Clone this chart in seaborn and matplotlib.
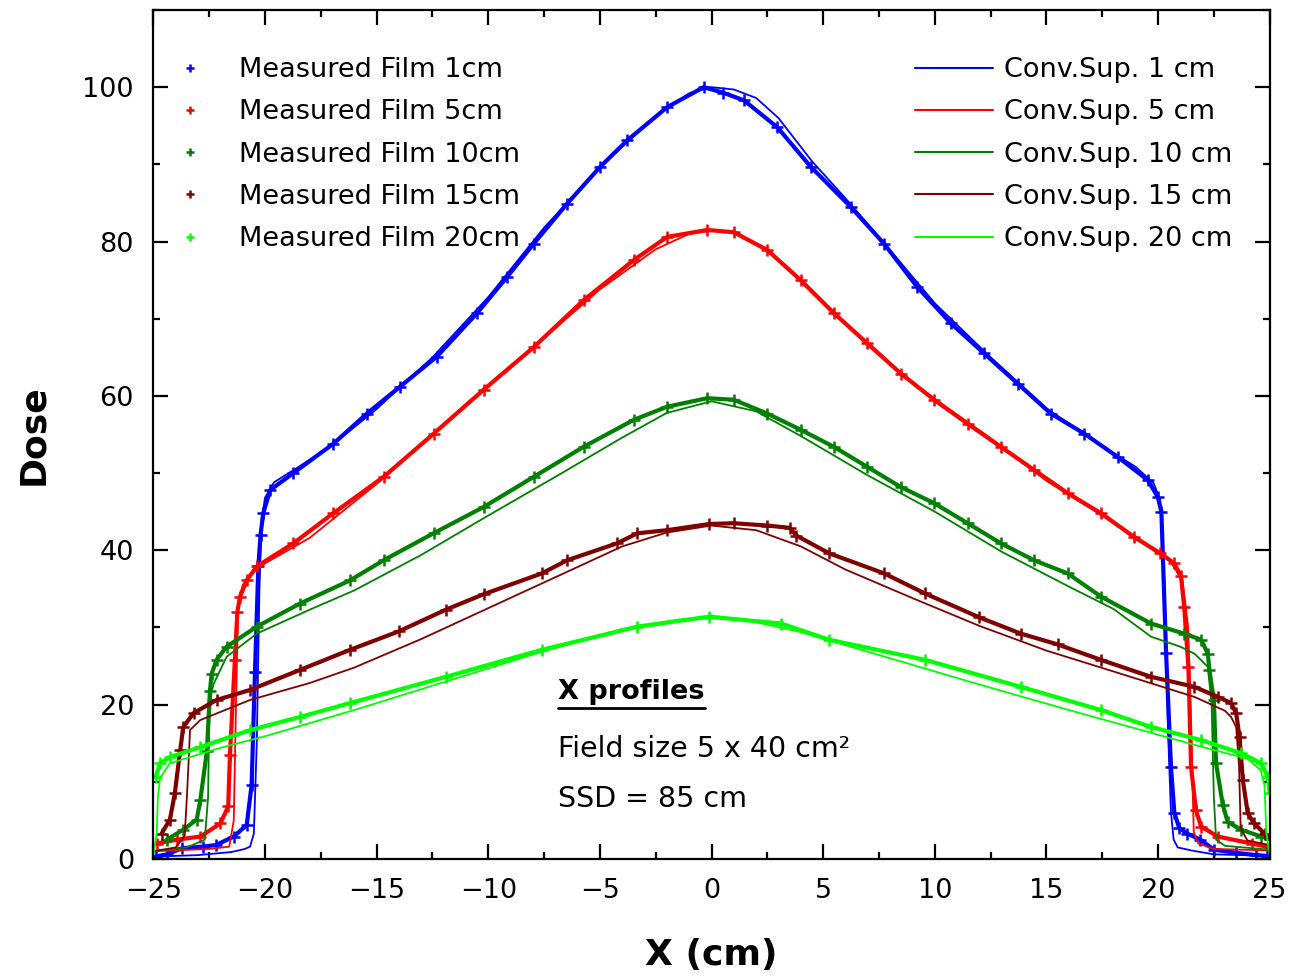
import matplotlib
matplotlib.use("Agg")
import matplotlib.pyplot as plt
from matplotlib.lines import Line2D
from matplotlib.ticker import MultipleLocator
import pandas as pd
import seaborn as sns

# Depths / labels / colours
depths = ["1", "5", "10", "15", "20"]
colors = ["#0000ff", "#ff0000", "#008000", "#800000", "#00ff00"]
meas_labels = ["Measured Film 1cm", "Measured Film 5cm", "Measured Film 10cm",
               "Measured Film 15cm", "Measured Film 20cm"]
calc_labels = ["Conv.Sup. 1 cm", "Conv.Sup. 5 cm", "Conv.Sup. 10 cm",
               "Conv.Sup. 15 cm", "Conv.Sup. 20 cm"]

# ---- measured film profiles ----
x_meas_1 = [-24.9, -24.4, -23.7, -22.8, -22.2, -21.4, -20.82, -20.6, -20.45, -20.3, -20.2,
            -20.08, -19.77, -18.73, -16.94, -15.44, -13.95, -12.30, -10.51, -9.16, -7.97,
            -6.47, -4.98, -3.78, -1.99, -0.35, 0.5, 1.45, 2.95, 4.44, 6.23, 7.73, 9.22,
            10.72, 12.21, 13.71, 15.20, 16.70, 18.19, 19.54, 19.99, 20.15, 20.36, 20.58,
            20.73, 20.95, 21.3, 21.9, 22.5, 23.5, 24.4, 24.9]
d_meas_1 = [0.3, 0.6, 1.4, 1.6, 1.8, 2.9, 4.4, 9.6, 24.2, 37.9, 42.0, 44.8, 47.8, 50.0,
            53.8, 57.7, 61.2, 65.1, 70.7, 75.4, 79.7, 84.9, 89.7, 93.1, 97.4, 100.0, 99.3,
            98.3, 94.8, 89.7, 84.5, 79.7, 74.1, 69.4, 65.5, 61.6, 57.7, 55.1, 52.1, 49.1,
            46.9, 45.0, 26.7, 11.9, 6.0, 4.0, 3.3, 2.5, 1.2, 0.8, 0.5, 0.4]

x_meas_5 = [-24.86, -23.96, -22.9, -22.0, -21.65, -21.57, -21.35, -21.24, -21.12, -20.82,
            -20.37, -18.73, -16.94, -14.69, -12.45, -10.21, -7.97, -5.73, -3.48, -1.99,
            -0.19, 1.0, 2.5, 3.99, 5.49, 6.98, 8.48, 9.97, 11.47, 12.96, 14.45, 15.95,
            17.44, 18.94, 20.1, 20.73, 21.03, 21.17, 21.36, 21.48, 21.7, 21.93, 22.68,
            24.2, 25.0]
d_meas_5 = [2.0, 2.5, 2.9, 4.6, 6.8, 13.5, 25.8, 32.0, 34.0, 36.1, 37.9, 40.9, 44.8, 49.5,
            55.1, 60.8, 66.3, 72.4, 77.6, 80.6, 81.5, 81.2, 78.9, 75.0, 70.7, 66.8, 62.9,
            59.5, 56.4, 53.4, 50.4, 47.4, 44.8, 41.7, 39.6, 38.3, 36.6, 32.7, 24.9, 11.9,
            6.3, 4.2, 2.9, 2.0, 1.5]

x_meas_10 = [-24.4, -23.66, -23.06, -22.9, -22.6, -22.47, -22.39, -22.17, -21.72, -20.37,
             -18.43, -16.19, -14.69, -12.45, -10.21, -7.97, -5.73, -3.48, -1.99, -0.19,
             1.0, 2.5, 4.0, 5.48, 6.98, 8.47, 9.97, 11.47, 12.96, 14.45, 15.95, 17.44,
             19.69, 21.17, 21.93, 22.23, 22.3, 22.5, 22.6, 22.9, 23.12, 23.72, 24.62, 25.0]
d_meas_10 = [2.5, 3.8, 5.1, 7.6, 14.0, 21.7, 24.0, 25.8, 27.5, 30.1, 33.1, 36.1, 38.7,
             42.2, 45.6, 49.5, 53.4, 56.9, 58.6, 59.7, 59.5, 57.7, 55.6, 53.4, 50.8, 48.2,
             46.1, 43.5, 40.9, 38.7, 37.0, 34.0, 30.5, 29.2, 28.4, 26.6, 24.5, 20.6, 12.4,
             7.0, 4.8, 3.8, 2.9, 2.6]

x_meas_15 = [-24.63, -24.26, -24.04, -23.8, -23.66, -23.2, -22.17, -20.67, -18.43, -16.19,
             -14.0, -11.9, -10.21, -7.6, -6.47, -4.23, -3.32, -1.99, -0.1, 1.0, 2.5, 3.5,
             3.8, 5.27, 7.73, 9.56, 12.0, 13.85, 15.5, 17.44, 19.69, 21.63, 22.68, 23.27,
             23.5, 23.65, 23.8, 24.02, 24.3, 24.77, 25.0]
d_meas_15 = [3.3, 5.1, 8.5, 14.1, 17.1, 18.9, 20.6, 21.9, 24.5, 27.1, 29.5, 32.3, 34.3,
             37.0, 38.7, 40.9, 42.2, 42.6, 43.4, 43.5, 43.2, 42.9, 41.9, 39.6, 37.0, 34.4,
             31.3, 29.2, 27.8, 25.8, 23.6, 22.3, 21.0, 20.2, 18.9, 15.8, 10.2, 5.9, 4.6,
             3.3, 2.8]

x_meas_20 = [-24.9, -24.7, -24.26, -22.9, -20.67, -18.43, -16.19, -11.9, -7.6, -3.32, -0.1,
             3.12, 5.27, 9.56, 13.85, 17.44, 19.69, 21.93, 23.72, 24.62, 24.92, 25.0]
d_meas_20 = [10.6, 12.4, 13.2, 14.5, 16.7, 18.4, 20.2, 23.6, 27.1, 30.1, 31.4, 30.5, 28.4,
             25.8, 22.3, 19.3, 17.1, 15.4, 13.7, 12.4, 10.6, 8.6]

# ---- convolution/superposition calculations ----
x_calc_1 = [-25.0, -23.0, -21.5, -20.9, -20.67, -20.5, -20.37, -20.25, -20.15, -20.0, -19.6,
            -18.5, -17.0, -15.0, -12.5, -10.0, -7.5, -5.0, -2.5, -1.0, 0.0, 1.0, 2.0, 3.0,
            4.5, 6.0, 7.5, 10.0, 12.5, 15.0, 17.5, 19.0, 19.8, 20.1, 20.3, 20.45, 20.58,
            20.7, 20.88, 21.5, 22.5, 25.0]
d_calc_1 = [0.3, 0.5, 0.9, 1.3, 1.6, 3.3, 15.0, 35.0, 44.0, 46.8, 48.8, 50.8, 53.6, 58.3,
            65.0, 72.8, 81.8, 89.6, 96.3, 99.2, 100.0, 99.7, 98.6, 96.0, 90.4, 85.6, 80.6,
            72.0, 65.0, 58.4, 53.5, 50.8, 48.7, 46.5, 35.0, 16.3, 6.0, 2.5, 1.5, 1.1, 0.6,
            0.4]

x_calc_5 = [-25.0, -22.5, -21.6, -21.4, -21.3, -21.2, -21.0, -20.6, -20.0, -18.0, -15.0,
            -12.5, -10.0, -7.5, -5.0, -2.5, -1.0, 0.0, 1.0, 2.5, 4.0, 6.0, 8.0, 10.0, 12.5,
            15.0, 17.5, 19.5, 20.5, 21.1, 21.35, 21.5, 21.6, 21.8, 22.5, 25.0]
d_calc_5 = [1.0, 1.3, 1.6, 5.0, 20.0, 33.0, 35.5, 37.0, 38.3, 41.6, 48.6, 54.9, 61.2, 67.5,
            73.8, 79.0, 81.0, 81.4, 81.2, 79.0, 75.0, 69.3, 64.0, 59.6, 54.5, 49.0, 44.5,
            40.6, 38.8, 36.0, 30.0, 15.0, 3.5, 2.0, 1.3, 1.1]

x_calc_10 = [-25.0, -23.5, -22.7, -22.55, -22.5, -22.4, -22.3, -21.72, -20.37, -18.0, -16.0,
             -13.0, -10.0, -7.0, -4.0, -2.0, 0.0, 2.0, 4.0, 7.0, 10.0, 13.0, 16.0, 18.0,
             19.69, 21.0, 21.63, 22.23, 22.4, 22.5, 22.6, 23.0, 25.0]
d_calc_10 = [1.0, 1.5, 2.5, 8.0, 18.0, 21.5, 22.7, 26.2, 29.2, 32.3, 34.8, 39.4, 44.5, 49.5,
             54.6, 57.8, 59.3, 58.0, 54.8, 49.7, 45.0, 39.8, 35.3, 32.4, 28.8, 27.5, 26.6,
             24.9, 20.0, 8.0, 2.5, 1.7, 1.2]

x_calc_15 = [-25.0, -24.0, -23.6, -23.5, -23.4, -23.36, -22.9, -20.67, -18.0, -16.0, -13.0,
             -10.0, -7.0, -4.0, -2.0, 0.0, 2.0, 4.0, 6.0, 9.0, 12.0, 15.0, 18.0, 21.63, 23.0,
             23.27, 23.5, 23.63, 23.7, 24.0, 25.0]
d_calc_15 = [1.0, 1.5, 3.0, 8.0, 14.0, 16.7, 18.0, 20.6, 22.8, 24.8, 28.5, 32.5, 36.5, 40.5,
             42.3, 43.2, 42.6, 40.5, 37.5, 33.8, 30.2, 27.0, 24.3, 21.0, 19.2, 18.4, 17.1,
             12.0, 4.0, 2.4, 1.8]

x_calc_20 = [-25.0, -24.85, -24.8, -24.7, -24.26, -22.0, -20.0, -16.0, -12.0, -8.0, -4.0,
             -1.5, 0.0, 1.5, 4.0, 8.0, 12.0, 16.0, 20.0, 22.0, 24.0, 24.6, 24.77, 24.85, 25.0]
d_calc_20 = [0.5, 3.4, 8.0, 10.5, 12.4, 14.4, 15.9, 19.3, 22.9, 26.5, 29.8, 31.0, 31.2, 31.0,
             29.4, 26.0, 22.6, 19.3, 16.1, 14.5, 13.0, 11.5, 9.5, 3.4, 0.5]

meas_x = [x_meas_1, x_meas_5, x_meas_10, x_meas_15, x_meas_20]
meas_d = [d_meas_1, d_meas_5, d_meas_10, d_meas_15, d_meas_20]
calc_x = [x_calc_1, x_calc_5, x_calc_10, x_calc_15, x_calc_20]
calc_d = [d_calc_1, d_calc_5, d_calc_10, d_calc_15, d_calc_20]

sns.set_style("ticks")
plt.rcParams['font.family'] = ['DejaVu Sans']
plt.rcParams['text.color'] = 'black'
plt.rcParams['axes.labelcolor'] = 'black'

fig = plt.figure(figsize=(12.89, 9.8), dpi=100)
ax = fig.add_axes([0.119, 0.1235, 0.866, 0.8663])

for i in range(len(depths)):
    dm = pd.DataFrame({"x": meas_x[i], "dose": meas_d[i]})
    dc = pd.DataFrame({"x": calc_x[i], "dose": calc_d[i]})
    # measured film: jagged band of "+" points
    sns.lineplot(data=dm, x="x", y="dose", ax=ax, color=colors[i], lw=3.0,
                 sort=False, estimator=None, marker="+", markersize=8,
                 markeredgewidth=1.8, markeredgecolor=colors[i])
    # calculation: thin line
    sns.lineplot(data=dc, x="x", y="dose", ax=ax, color=colors[i], lw=1.3,
                 sort=False, estimator=None)

ax.set_xlim(-25, 25)
ax.set_ylim(0, 110)
ax.xaxis.set_major_locator(MultipleLocator(5))
ax.xaxis.set_minor_locator(MultipleLocator(2.5))
ax.yaxis.set_major_locator(MultipleLocator(20))
ax.yaxis.set_minor_locator(MultipleLocator(10))
ax.tick_params(which="both", direction="in", top=True, right=True, width=1.6,
               labelsize=19.5, colors="black")
ax.tick_params(which="major", length=11, pad=14)
ax.tick_params(which="minor", length=5)
for sp in ax.spines.values():
    sp.set_linewidth(1.6)
    sp.set_color("black")

ax.set_xlabel("X (cm)", fontsize=26, fontweight="bold", labelpad=24)
ax.set_ylabel("Dose", fontsize=26, fontweight="bold", labelpad=23)

# legends
meas_handles = [Line2D([], [], ls="none", marker="+", color=c, markersize=6,
                       markeredgewidth=1.8) for c in colors]
calc_handles = [Line2D([], [], color=c, lw=1.5) for c in colors]
leg1 = ax.legend(meas_handles, meas_labels, loc="upper left",
                 bbox_to_anchor=(0.011, 0.9445), frameon=False, fontsize=19.5,
                 handlelength=1.8, handletextpad=0.9, labelspacing=0.6,
                 borderpad=0, borderaxespad=0)
ax.add_artist(leg1)
ax.legend(calc_handles, calc_labels, loc="upper left",
          bbox_to_anchor=(0.682, 0.9445), frameon=False, fontsize=19.5,
          handlelength=2.9, handletextpad=0.4, labelspacing=0.6,
          borderpad=0, borderaxespad=0)

# annotation block
t = ax.text(-6.86, 21.6, "X profiles", fontsize=19.5, fontweight="bold",
            ha="left", va="center")
ax.text(-6.86, 14.2, "Field size 5 x 40 cm²", fontsize=20.5, ha="left", va="center")
ax.text(-6.86, 7.8, "SSD = 85 cm", fontsize=20.5, ha="left", va="center")

fig.canvas.draw()
bb = t.get_window_extent()
fig.add_artist(Line2D([bb.x0 / fig.bbox.width, bb.x1 / fig.bbox.width],
                      [(bb.y0 - 3) / fig.bbox.height] * 2, color="black", lw=2))

fig.savefig("out.png", dpi=100)
